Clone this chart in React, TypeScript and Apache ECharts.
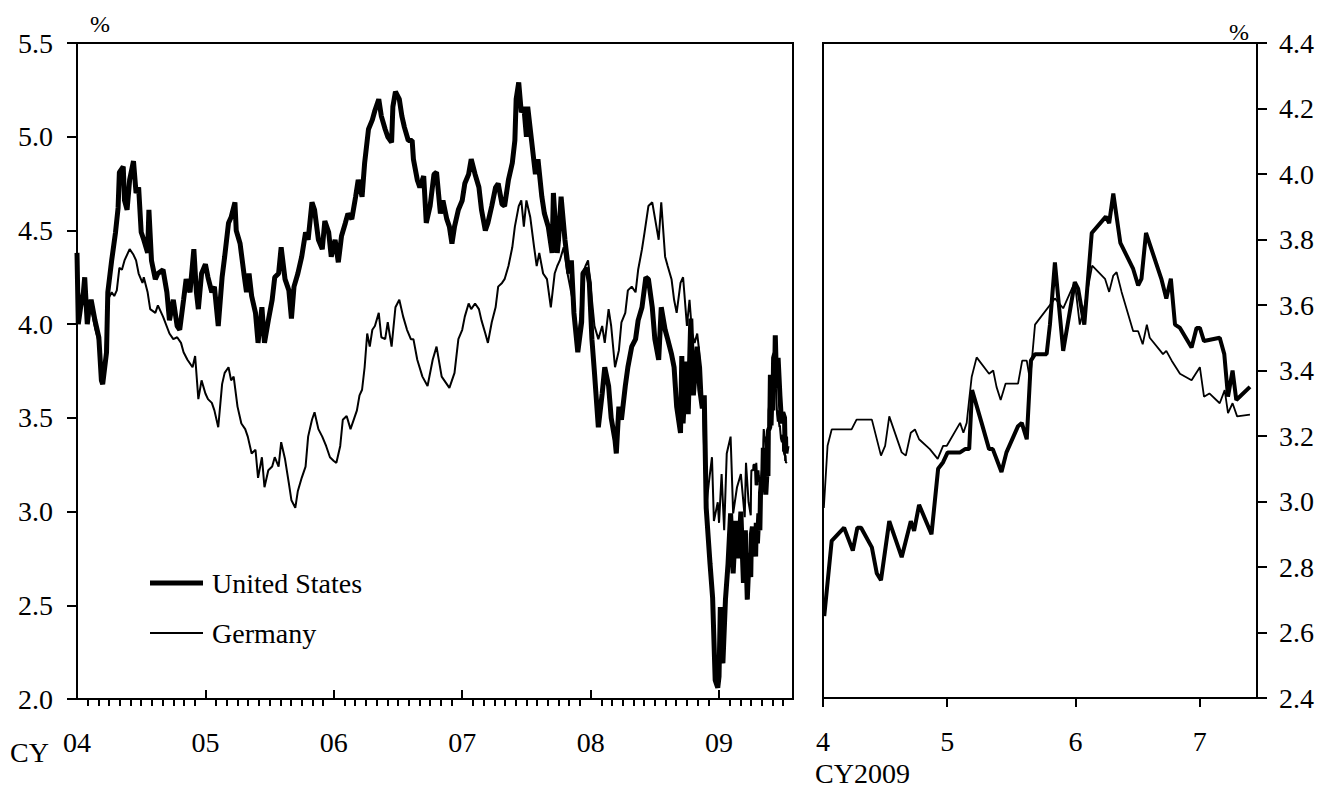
import React, { useEffect, useRef } from 'react';
import * as echarts from 'echarts';

const FONT = "'Liberation Serif', 'Times New Roman', serif";

// Long-run panel (decimal years)
const yearTicks = [2004, 2005, 2006, 2007, 2008, 2009];
const monthTicks: number[] = [];
for (const y of yearTicks) for (let m = 1; m < 12; m++) if (y + m / 12 <= 2009.51) monthTicks.push(y + m / 12);

// Recent panel (days since 1 April 2009)
const recentMonthStarts = [0, 30, 61, 91];
const recentMonthLabels = ['4', '5', '6', '7'];

const usLong: [number, number][] = [
  [2004.00,4.38],[2004.01,4.00],[2004.03,4.10],[2004.05,4.17],[2004.06,4.25],[2004.08,4.00],[2004.09,4.06],[2004.11,4.13],[2004.14,4.02],[2004.17,3.93],[2004.19,3.70],[2004.20,3.68],[2004.23,3.85],[2004.24,4.17],[2004.27,4.34],[2004.30,4.49],[2004.32,4.62],[2004.33,4.81],[2004.36,4.84],[2004.37,4.66],[2004.39,4.61],[2004.41,4.77],[2004.44,4.87],[2004.46,4.70],[2004.48,4.73],[2004.50,4.49],[2004.52,4.45],[2004.55,4.38],[2004.56,4.61],[2004.58,4.34],[2004.61,4.24],[2004.63,4.27],[2004.67,4.29],[2004.70,4.17],[2004.72,4.02],[2004.75,4.13],[2004.78,3.99],[2004.80,3.97],[2004.83,4.13],[2004.85,4.24],[2004.88,4.17],[2004.91,4.40],[2004.93,4.17],[2004.945,4.08],[2004.97,4.27],
  [2005.00,4.32],[2005.02,4.25],[2005.05,4.17],[2005.07,4.20],[2005.10,3.99],[2005.13,4.25],[2005.15,4.36],[2005.18,4.54],[2005.20,4.57],[2005.23,4.65],[2005.24,4.50],[2005.27,4.43],[2005.30,4.27],[2005.32,4.17],[2005.34,4.27],[2005.36,4.15],[2005.39,4.06],[2005.41,3.90],[2005.44,4.09],[2005.46,3.90],[2005.49,4.02],[2005.52,4.13],[2005.54,4.25],[2005.57,4.27],[2005.59,4.41],[2005.62,4.24],[2005.65,4.18],[2005.67,4.03],[2005.69,4.20],[2005.72,4.27],[2005.75,4.36],[2005.78,4.49],[2005.80,4.45],[2005.83,4.65],[2005.85,4.61],[2005.88,4.45],[2005.91,4.40],[2005.93,4.55],[2005.96,4.49],[2005.98,4.36],
  [2006.01,4.45],[2006.035,4.33],[2006.06,4.47],[2006.09,4.54],[2006.11,4.59],[2006.14,4.56],[2006.17,4.68],[2006.19,4.77],[2006.22,4.68],[2006.24,4.86],[2006.27,5.04],[2006.30,5.09],[2006.32,5.14],[2006.35,5.20],[2006.37,5.11],[2006.40,5.04],[2006.42,5.00],[2006.45,4.97],[2006.46,5.16],[2006.48,5.24],[2006.51,5.20],[2006.53,5.11],[2006.55,5.05],[2006.58,4.98],[2006.61,4.98],[2006.62,4.88],[2006.65,4.77],[2006.67,4.73],[2006.70,4.79],[2006.72,4.54],[2006.75,4.63],[2006.78,4.80],[2006.80,4.81],[2006.83,4.59],[2006.85,4.66],[2006.88,4.56],[2006.90,4.52],[2006.92,4.43],[2006.94,4.52],[2006.97,4.61],
  [2007.00,4.66],[2007.02,4.75],[2007.05,4.80],[2007.07,4.88],[2007.10,4.80],[2007.13,4.73],[2007.15,4.61],[2007.18,4.50],[2007.20,4.54],[2007.23,4.63],[2007.26,4.73],[2007.28,4.75],[2007.31,4.64],[2007.33,4.63],[2007.36,4.77],[2007.39,4.86],[2007.41,4.98],[2007.42,5.20],[2007.44,5.29],[2007.46,5.13],[2007.48,5.16],[2007.50,5.00],[2007.51,5.16],[2007.54,4.98],[2007.57,4.80],[2007.59,4.88],[2007.62,4.68],[2007.64,4.59],[2007.67,4.52],[2007.70,4.38],[2007.71,4.70],[2007.74,4.38],[2007.75,4.45],[2007.77,4.68],[2007.80,4.45],[2007.83,4.27],[2007.85,4.34],[2007.87,4.06],[2007.90,3.85],[2007.93,4.01],[2007.94,4.27],[2007.97,4.30],[2007.99,4.22],
  [2008.01,3.92],[2008.03,3.74],[2008.06,3.45],[2008.09,3.63],[2008.11,3.77],[2008.14,3.67],[2008.16,3.50],[2008.19,3.38],[2008.20,3.31],[2008.22,3.56],[2008.24,3.49],[2008.27,3.67],[2008.29,3.77],[2008.32,3.88],[2008.35,3.92],[2008.37,4.02],[2008.40,4.09],[2008.43,4.25],[2008.45,4.24],[2008.48,4.09],[2008.50,3.92],[2008.53,3.81],[2008.55,4.09],[2008.58,3.97],[2008.60,3.92],[2008.63,3.84],[2008.65,3.77],[2008.67,3.56],[2008.70,3.42],[2008.71,3.83],[2008.72,3.47],[2008.745,3.80],[2008.76,3.52],[2008.78,4.03],[2008.80,3.62],[2008.83,3.88],[2008.85,3.65],[2008.87,3.55],[2008.885,3.62],[2008.90,3.02],[2008.93,2.72],[2008.95,2.54],[2008.97,2.10],[2008.99,2.06],
  [2009.00,2.12],[2009.01,2.49],[2009.03,2.19],[2009.05,2.53],[2009.07,2.72],[2009.09,2.99],[2009.11,2.67],[2009.13,2.95],[2009.15,2.75],[2009.17,3.00],[2009.19,2.62],[2009.205,2.90],[2009.22,2.53],[2009.235,2.78],[2009.247,2.65],[2009.252,2.88],[2009.26,2.92],[2009.266,2.85],[2009.268,2.92],[2009.279,2.86],[2009.285,2.76],[2009.29,2.94],[2009.299,2.83],[2009.31,2.99],[2009.318,2.90],[2009.323,3.10],[2009.329,3.15],[2009.34,3.16],[2009.345,3.34],[2009.351,3.24],[2009.364,3.09],[2009.375,3.23],[2009.381,3.19],[2009.384,3.43],[2009.395,3.45],[2009.40,3.73],[2009.405,3.46],[2009.414,3.67],[2009.419,3.54],[2009.425,3.82],[2009.436,3.85],[2009.438,3.94],[2009.444,3.79],[2009.455,3.66],[2009.46,3.82],[2009.474,3.62],[2009.482,3.53],[2009.49,3.47],[2009.496,3.53],[2009.51,3.50],[2009.515,3.32],[2009.518,3.40],[2009.521,3.31],[2009.529,3.35],
];

const deLong: [number, number][] = [
  [2004.00,4.15],[2004.01,4.05],[2004.03,4.12],[2004.05,4.18],[2004.06,4.10],[2004.08,4.02],[2004.10,4.08],[2004.12,4.05],[2004.14,3.98],[2004.17,3.90],[2004.19,3.72],[2004.20,3.70],[2004.22,3.82],[2004.24,4.13],[2004.27,4.17],[2004.29,4.15],[2004.31,4.18],[2004.33,4.30],[2004.35,4.29],[2004.37,4.34],[2004.41,4.40],[2004.44,4.37],[2004.46,4.34],[2004.48,4.27],[2004.51,4.22],[2004.52,4.25],[2004.55,4.17],[2004.57,4.08],[2004.61,4.06],[2004.63,4.10],[2004.67,4.04],[2004.72,3.95],[2004.75,3.92],[2004.78,3.93],[2004.81,3.90],[2004.83,3.85],[2004.86,3.81],[2004.90,3.77],[2004.92,3.83],[2004.945,3.60],[2004.97,3.70],
  [2005.00,3.63],[2005.02,3.60],[2005.05,3.58],[2005.07,3.54],[2005.10,3.45],[2005.13,3.68],[2005.15,3.74],[2005.18,3.77],[2005.20,3.70],[2005.22,3.72],[2005.25,3.56],[2005.28,3.47],[2005.31,3.44],[2005.33,3.40],[2005.36,3.31],[2005.39,3.33],[2005.41,3.18],[2005.44,3.29],[2005.46,3.13],[2005.49,3.22],[2005.52,3.24],[2005.54,3.29],[2005.57,3.24],[2005.59,3.37],[2005.62,3.28],[2005.65,3.15],[2005.67,3.06],[2005.70,3.02],[2005.72,3.11],[2005.75,3.18],[2005.78,3.24],[2005.80,3.40],[2005.83,3.49],[2005.85,3.53],[2005.88,3.44],[2005.91,3.40],[2005.94,3.35],[2005.97,3.29],
  [2006.00,3.27],[2006.02,3.26],[2006.05,3.35],[2006.07,3.49],[2006.10,3.51],[2006.13,3.44],[2006.16,3.50],[2006.18,3.54],[2006.20,3.62],[2006.22,3.65],[2006.24,3.77],[2006.26,3.95],[2006.28,3.88],[2006.30,3.97],[2006.32,3.99],[2006.35,4.06],[2006.37,3.93],[2006.40,3.92],[2006.42,4.01],[2006.45,3.88],[2006.48,4.09],[2006.51,4.13],[2006.54,4.04],[2006.57,3.97],[2006.60,3.92],[2006.62,3.92],[2006.65,3.81],[2006.69,3.72],[2006.73,3.67],[2006.77,3.81],[2006.80,3.88],[2006.84,3.72],[2006.90,3.66],[2006.94,3.74],[2006.97,3.92],
  [2007.00,3.97],[2007.02,4.04],[2007.05,4.11],[2007.07,4.08],[2007.10,4.11],[2007.13,4.08],[2007.15,4.02],[2007.18,3.95],[2007.20,3.90],[2007.23,4.01],[2007.26,4.09],[2007.28,4.20],[2007.31,4.22],[2007.33,4.24],[2007.36,4.31],[2007.39,4.41],[2007.41,4.52],[2007.44,4.63],[2007.46,4.66],[2007.48,4.52],[2007.50,4.66],[2007.53,4.57],[2007.56,4.41],[2007.58,4.31],[2007.60,4.38],[2007.63,4.27],[2007.66,4.24],[2007.69,4.09],[2007.72,4.27],[2007.74,4.31],[2007.76,4.34],[2007.79,4.41],[2007.82,4.27],[2007.84,4.20],[2007.87,4.09],[2007.90,3.92],[2007.92,4.04],[2007.94,4.27],[2007.96,4.31],[2007.98,4.34],
  [2008.01,4.13],[2008.03,3.99],[2008.06,3.92],[2008.09,3.99],[2008.11,3.90],[2008.14,4.08],[2008.16,3.99],[2008.19,3.77],[2008.22,3.86],[2008.24,4.01],[2008.27,4.06],[2008.29,4.18],[2008.32,4.20],[2008.35,4.17],[2008.37,4.29],[2008.40,4.40],[2008.42,4.49],[2008.45,4.63],[2008.48,4.65],[2008.50,4.57],[2008.53,4.45],[2008.55,4.65],[2008.58,4.36],[2008.60,4.31],[2008.63,4.24],[2008.65,4.13],[2008.67,4.06],[2008.70,4.22],[2008.72,4.25],[2008.75,3.99],[2008.77,4.13],[2008.79,3.95],[2008.81,3.90],[2008.83,3.95],[2008.86,3.77],[2008.875,3.55],[2008.885,3.30],[2008.90,3.02],[2008.92,3.15],[2008.945,3.29],[2008.96,2.95],[2008.99,3.05],
  [2009.00,2.94],[2009.02,3.20],[2009.04,2.90],[2009.06,3.31],[2009.09,3.40],[2009.11,2.99],[2009.14,3.13],[2009.17,3.20],[2009.20,2.97],[2009.21,3.26],[2009.23,3.05],[2009.247,2.98],[2009.25,3.17],[2009.252,3.22],[2009.266,3.22],[2009.268,3.25],[2009.279,3.25],[2009.285,3.14],[2009.288,3.17],[2009.29,3.26],[2009.299,3.15],[2009.301,3.14],[2009.305,3.21],[2009.307,3.22],[2009.31,3.19],[2009.318,3.16],[2009.323,3.13],[2009.326,3.17],[2009.329,3.17],[2009.337,3.24],[2009.34,3.21],[2009.342,3.24],[2009.345,3.38],[2009.348,3.44],[2009.356,3.39],[2009.359,3.40],[2009.362,3.35],[2009.364,3.31],[2009.367,3.36],[2009.375,3.36],[2009.378,3.43],[2009.381,3.43],[2009.384,3.37],[2009.386,3.54],[2009.40,3.62],[2009.405,3.59],[2009.414,3.67],[2009.416,3.54],[2009.419,3.60],[2009.425,3.72],[2009.433,3.68],[2009.436,3.64],[2009.438,3.69],[2009.441,3.70],[2009.444,3.64],[2009.452,3.52],[2009.455,3.52],[2009.458,3.48],[2009.46,3.54],[2009.463,3.50],[2009.471,3.45],[2009.474,3.46],[2009.477,3.43],[2009.482,3.39],[2009.49,3.37],[2009.496,3.41],[2009.499,3.32],[2009.501,3.33],[2009.51,3.30],[2009.512,3.34],[2009.515,3.27],[2009.518,3.30],[2009.521,3.26],[2009.529,3.265],
];

const usRecent: [number, number][] = [
  [0.3,2.65],[2.1,2.88],[5.1,2.92],[7.2,2.85],[8.3,2.92],[9.2,2.92],[11.8,2.86],[13,2.78],[14,2.76],[16,2.94],[19,2.83],[21.2,2.94],[22,2.91],[23.2,2.99],[26.2,2.90],[27.8,3.10],[29,3.12],[30.1,3.15],[33.1,3.15],[34.3,3.16],[35.3,3.16],[36,3.34],[38.3,3.24],[40.1,3.16],[41,3.16],[43.1,3.09],[44.3,3.15],[47.1,3.23],[48,3.24],[49.2,3.19],[50.2,3.43],[51.2,3.45],[54,3.45],[54.8,3.54],[56,3.73],[58,3.46],[60.8,3.67],[61.6,3.65],[63.1,3.54],[64.9,3.82],[68.3,3.87],[69.1,3.85],[70.1,3.94],[71.8,3.79],[74.9,3.71],[76.1,3.66],[76.9,3.68],[78,3.82],[81.7,3.68],[82.9,3.62],[84,3.68],[85,3.54],[86.2,3.53],[89,3.47],[90.2,3.53],[91,3.53],[92,3.49],[95.8,3.50],[96.9,3.45],[97.8,3.32],[98.9,3.40],[99.8,3.31],[103.1,3.35],
];

const deRecent: [number, number][] = [
  [0.2,2.98],[1.1,3.17],[2.1,3.22],[6.9,3.22],[8.1,3.25],[8.9,3.25],[11.8,3.25],[14,3.14],[15,3.17],[16,3.26],[19,3.15],[20,3.14],[21.2,3.21],[22.2,3.22],[23.2,3.19],[25.8,3.16],[27.7,3.13],[29,3.17],[29.9,3.17],[33.1,3.24],[33.9,3.21],[34.7,3.24],[35.2,3.30],[35.9,3.38],[37.1,3.44],[40.1,3.39],[41.1,3.40],[41.9,3.35],[42.9,3.31],[44.1,3.36],[47.1,3.36],[48.1,3.43],[49.2,3.43],[50,3.37],[51.2,3.54],[56,3.62],[58,3.59],[60.8,3.67],[62,3.54],[63.2,3.60],[65,3.72],[68.1,3.68],[69.1,3.64],[70.1,3.69],[70.9,3.70],[72.1,3.64],[74.9,3.52],[76.1,3.52],[77.2,3.48],[78.2,3.54],[78.9,3.50],[82.1,3.45],[82.9,3.46],[84.2,3.43],[86.2,3.39],[89,3.37],[91,3.41],[92,3.32],[93.3,3.33],[95.8,3.30],[97,3.34],[97.8,3.27],[98.9,3.30],[100,3.26],[103.1,3.265],
];

const BLACK = '#000';
const axisLine = { show: true, onZero: false, lineStyle: { color: BLACK, width: 2 } };
const labelBase = { color: BLACK, fontSize: 28, fontFamily: FONT };

export default function App() {
  const ref = useRef<HTMLDivElement>(null);
  useEffect(() => {
    if (!ref.current) return;
    const chart = echarts.init(ref.current, null, { renderer: 'svg' });
    const option: any = {
      animation: false,
      backgroundColor: '#fff',
      color: [BLACK],
      textStyle: { fontFamily: FONT, color: BLACK },
      grid: [
        { left: 77, top: 43, width: 716, height: 656, show: true, borderColor: BLACK, borderWidth: 2 },
        { left: 823, top: 43, width: 434, height: 655, show: true, borderColor: BLACK, borderWidth: 2 },
      ],
      xAxis: [
        {
          type: 'value', gridIndex: 0, min: 2004, max: 2009.576, position: 'bottom',
          axisLine,
          axisTick: { show: true, inside: true, length: 9, customValues: yearTicks, lineStyle: { color: BLACK, width: 2 } },
          axisLabel: { ...labelBase, customValues: yearTicks, formatter: (v: number) => String(Math.round(v)).slice(2), margin: 43, verticalAlign: 'middle' },
          splitLine: { show: false },
        },
        {
          type: 'value', gridIndex: 0, min: 2004, max: 2009.576, position: 'bottom',
          axisLine: { show: false },
          axisTick: { show: true, inside: false, length: 7, customValues: monthTicks, lineStyle: { color: BLACK, width: 2 } },
          axisLabel: { show: false },
          splitLine: { show: false },
        },
        {
          type: 'value', gridIndex: 1, min: 0, max: 104.8, position: 'bottom',
          axisLine,
          axisTick: { show: true, inside: false, length: 9, customValues: recentMonthStarts, lineStyle: { color: BLACK, width: 2 } },
          axisLabel: {
            ...labelBase, customValues: recentMonthStarts, margin: 43, verticalAlign: 'middle',
            formatter: (v: number) => recentMonthLabels[recentMonthStarts.indexOf(Math.round(v))] ?? '',
          },
          splitLine: { show: false },
        },
      ],
      yAxis: [
        {
          type: 'value', gridIndex: 0, min: 2, max: 5.5, interval: 0.5, position: 'left',
          axisLine,
          axisTick: { show: true, length: 10, lineStyle: { color: BLACK, width: 2 } },
          axisLabel: { ...labelBase, margin: 24, formatter: (v: number) => v.toFixed(1) },
          splitLine: { show: false },
        },
        {
          type: 'value', gridIndex: 1, min: 2.4, max: 4.4, interval: 0.2, position: 'right',
          axisLine,
          axisTick: { show: true, length: 10, lineStyle: { color: BLACK, width: 2 } },
          axisLabel: { ...labelBase, margin: 22, formatter: (v: number) => v.toFixed(1) },
          splitLine: { show: false },
        },
      ],
      legend: [
        {
          data: [{ name: 'United States', icon: 'rect' }], left: 150, top: 568, padding: 0,
          itemWidth: 53, itemHeight: 5, selectedMode: false,
          textStyle: { ...labelBase, lineHeight: 30, padding: [0, 0, 0, 4] },
        },
        {
          data: [{ name: 'Germany', icon: 'rect' }], left: 150, top: 618, padding: 0,
          itemWidth: 53, itemHeight: 2, selectedMode: false,
          textStyle: { ...labelBase, lineHeight: 30, padding: [0, 0, 0, 4] },
        },
      ],
      graphic: [
        { type: 'text', x: 100, y: 24, style: { text: '%', fontSize: 24, fontFamily: FONT, fill: BLACK, align: 'center', verticalAlign: 'middle' } },
        { type: 'text', x: 1239, y: 32, style: { text: '%', fontSize: 24, fontFamily: FONT, fill: BLACK, align: 'center', verticalAlign: 'middle' } },
        { type: 'text', x: 10, y: 752, style: { text: 'CY', fontSize: 28, fontFamily: FONT, fill: BLACK, align: 'left', verticalAlign: 'middle' } },
        { type: 'text', x: 815, y: 773, style: { text: 'CY2009', fontSize: 28, fontFamily: FONT, fill: BLACK, align: 'left', verticalAlign: 'middle' } },
      ],
      series: [
        {
          name: 'United States', type: 'line', xAxisIndex: 0, yAxisIndex: 0, data: usLong,
          showSymbol: false, symbol: 'none', lineStyle: { color: BLACK, width: 5 }, itemStyle: { color: BLACK }, z: 3,
        },
        {
          name: 'Germany', type: 'line', xAxisIndex: 0, yAxisIndex: 0, data: deLong,
          showSymbol: false, symbol: 'none', lineStyle: { color: BLACK, width: 2 }, itemStyle: { color: BLACK }, z: 2,
        },
        {
          name: 'United States', type: 'line', xAxisIndex: 2, yAxisIndex: 1, data: usRecent,
          showSymbol: false, symbol: 'none', lineStyle: { color: BLACK, width: 4 }, itemStyle: { color: BLACK }, z: 3,
        },
        {
          name: 'Germany', type: 'line', xAxisIndex: 2, yAxisIndex: 1, data: deRecent,
          showSymbol: false, symbol: 'none', lineStyle: { color: BLACK, width: 1.8 }, itemStyle: { color: BLACK }, z: 2,
        },
      ],
    };
    chart.setOption(option);
    return () => chart.dispose();
  }, []);
  return (
    <div
      ref={ref}
      style={{ position: 'fixed', left: 0, top: 0, width: 1324, height: 789, background: '#fff' }}
    />
  );
}
